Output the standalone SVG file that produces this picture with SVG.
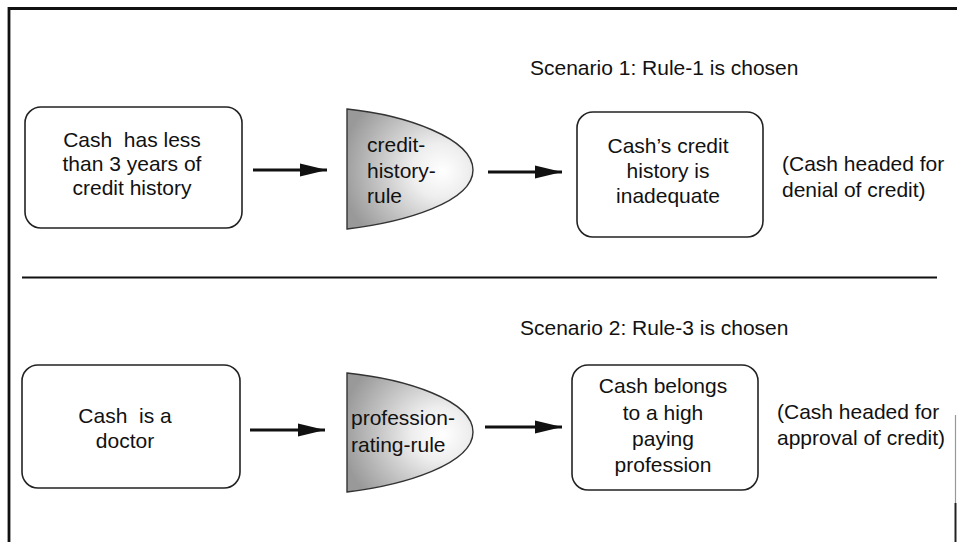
<svg xmlns="http://www.w3.org/2000/svg" width="957" height="542" viewBox="0 0 957 542">
  <defs>
    <radialGradient id="ruleFill" cx="0.7" cy="0.5" r="0.75" fx="0.76" fy="0.52">
      <stop offset="0" stop-color="#ffffff"/>
      <stop offset="0.3" stop-color="#eeeeee"/>
      <stop offset="0.7" stop-color="#bdbdbd"/>
      <stop offset="1" stop-color="#999999"/>
    </radialGradient>
    <marker id="arrowHead" markerWidth="9" markerHeight="4.4" refX="9" refY="2.2" orient="auto" markerUnits="strokeWidth">
      <path d="M0,0 L9,2.2 L0,4.4 Z" fill="#111"/>
    </marker>
  </defs>
  <style>
    text { font-family: "Liberation Sans", Arial, Helvetica, sans-serif; font-size: 21px; fill: #111; white-space: pre; }
    .c { text-anchor: middle; }
    .box { fill: #fff; stroke: #222; stroke-width: 1.6; }
    .rule { fill: url(#ruleFill); stroke: #333; stroke-width: 1.4; }
    .arrow { stroke: #111; stroke-width: 3; fill: none; marker-end: url(#arrowHead); }
    .frame { stroke: #111; fill: none; }
  </style>

  <rect width="957" height="542" fill="#fff"/>

  <!-- outer frame and divider -->
  <g id="frame">
    <path class="frame" d="M9,542 V8.5 H957" stroke-width="2.8"/>
    <line class="frame" x1="22" y1="277.5" x2="937" y2="277.5" stroke-width="2"/>
    <line x1="955.5" y1="415" x2="955.5" y2="503" stroke="#999" stroke-width="1.2"/>
    <line x1="955.5" y1="503" x2="955.5" y2="542" stroke="#222" stroke-width="2"/>
  </g>

  <!-- scenario titles -->
  <text id="scenario1" x="530" y="75">Scenario 1: Rule-1 is chosen</text>
  <text id="scenario2" x="520" y="335">Scenario 2: Rule-3 is chosen</text>

  <!-- scenario 1 -->
  <g id="fact1">
    <rect class="box" x="25" y="107" width="217" height="121" rx="16"/>
    <text class="c" x="132" y="147" xml:space="preserve">Cash  has less</text>
    <text class="c" x="132" y="171">than 3 years of</text>
    <text class="c" x="132" y="195">credit history</text>
  </g>
  <g id="rule1">
    <path class="rule" d="M347,109 C405,115 473,138 473,170 C473,202 405,222 347,229 Z"/>
    <text x="367" y="152">credit-</text>
    <text x="367" y="178">history-</text>
    <text x="367" y="203">rule</text>
  </g>
  <g id="result1">
    <rect class="box" x="577" y="112" width="186" height="125" rx="16"/>
    <text class="c" x="668" y="153">Cash’s credit</text>
    <text class="c" x="668" y="178">history is</text>
    <text class="c" x="668" y="203">inadequate</text>
  </g>
  <g id="note1">
    <text x="782" y="171">(Cash headed for</text>
    <text x="782" y="197">denial of credit)</text>
  </g>

  <!-- scenario 2 -->
  <g id="fact2">
    <rect class="box" x="22" y="365" width="218" height="123" rx="16"/>
    <text class="c" x="125" y="423" xml:space="preserve">Cash  is a</text>
    <text class="c" x="125" y="448">doctor</text>
  </g>
  <g id="rule2">
    <path class="rule" d="M347,373 C405,379 473,400 473,432 C473,464 405,485 347,492 Z"/>
    <text x="351" y="425">profession-</text>
    <text x="351" y="452">rating-rule</text>
  </g>
  <g id="result2">
    <rect class="box" x="572" y="365" width="186" height="125" rx="16"/>
    <text class="c" x="663" y="393">Cash belongs</text>
    <text class="c" x="663" y="420">to a high</text>
    <text class="c" x="663" y="446">paying</text>
    <text class="c" x="663" y="472">profession</text>
  </g>
  <g id="note2">
    <text x="777" y="419">(Cash headed for</text>
    <text x="777" y="445">approval of credit)</text>
  </g>

  <!-- connectors -->
  <g id="connectors">
    <line class="arrow" x1="253" y1="170" x2="327" y2="170"/>
    <line class="arrow" x1="488" y1="172" x2="562" y2="172"/>
    <line class="arrow" x1="250" y1="430" x2="325" y2="430"/>
    <line class="arrow" x1="485" y1="427" x2="562" y2="427"/>
  </g>
</svg>
